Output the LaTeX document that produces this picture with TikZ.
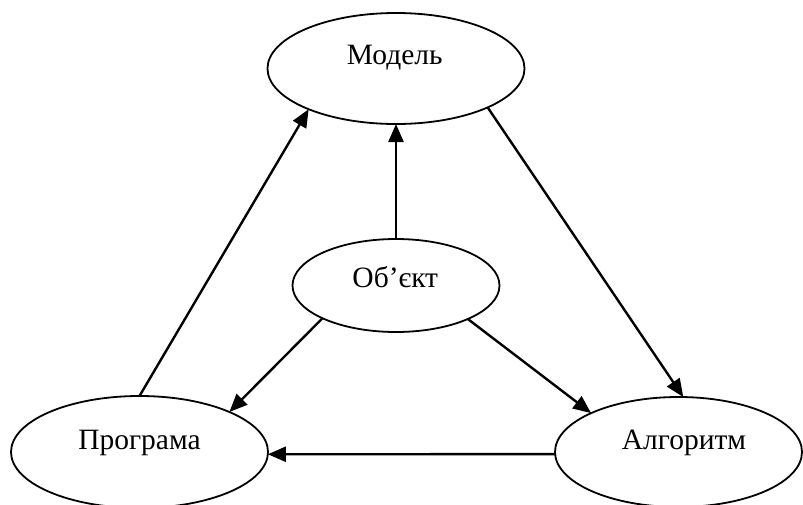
\documentclass[tikz,border=0pt]{standalone}
\usepackage{fontspec}
\setmainfont{Liberation Serif}
\usetikzlibrary{shapes.geometric,arrows.meta}
\begin{document}
\begin{tikzpicture}[x=1pt,y=-1pt,
  elli/.style={draw, ellipse, line width=1.8pt, inner sep=0pt, outer sep=0pt},
  lbl/.style={anchor=base, inner sep=0pt, font=\fontsize{29.5}{35}\selectfont},
  arr/.style={line width=2.4pt, -{Triangle[length=18pt,width=15pt]}}]
\useasboundingbox (0,0) rectangle (803,504);
\clip (0,0) rectangle (803,504);
% ellipses
\node[elli, minimum width=257pt, minimum height=111pt] (M) at (396,68.5) {};
\node[elli, minimum width=207pt, minimum height=93pt]  (O) at (396,285.5) {};
\node[elli, minimum width=257pt, minimum height=112pt] (P) at (139.5,452) {};
\node[elli, minimum width=247pt, minimum height=110pt] (A) at (678.5,452) {};
% texts
\node[lbl] (Mt) at (394.7,64) {Модель};
\node[lbl] (Ot) at (395.3,287) {Об’єкт};
\node[lbl] (Pt) at (139.5,449) {Програма};
\node[lbl] (At) at (684,449) {Алгоритм};
% connectors
\draw[arr] (P.90) -- (M.205);
\draw[arr] (O.north) -- (M.south);
\draw[arr] (M.337) -- (A.85);
\draw[arr] (O.204) -- (P.24);
\draw[arr] (O.335) -- (A.156);
\draw[arr] (A.181) -- (P.359);
\end{tikzpicture}
\end{document}
